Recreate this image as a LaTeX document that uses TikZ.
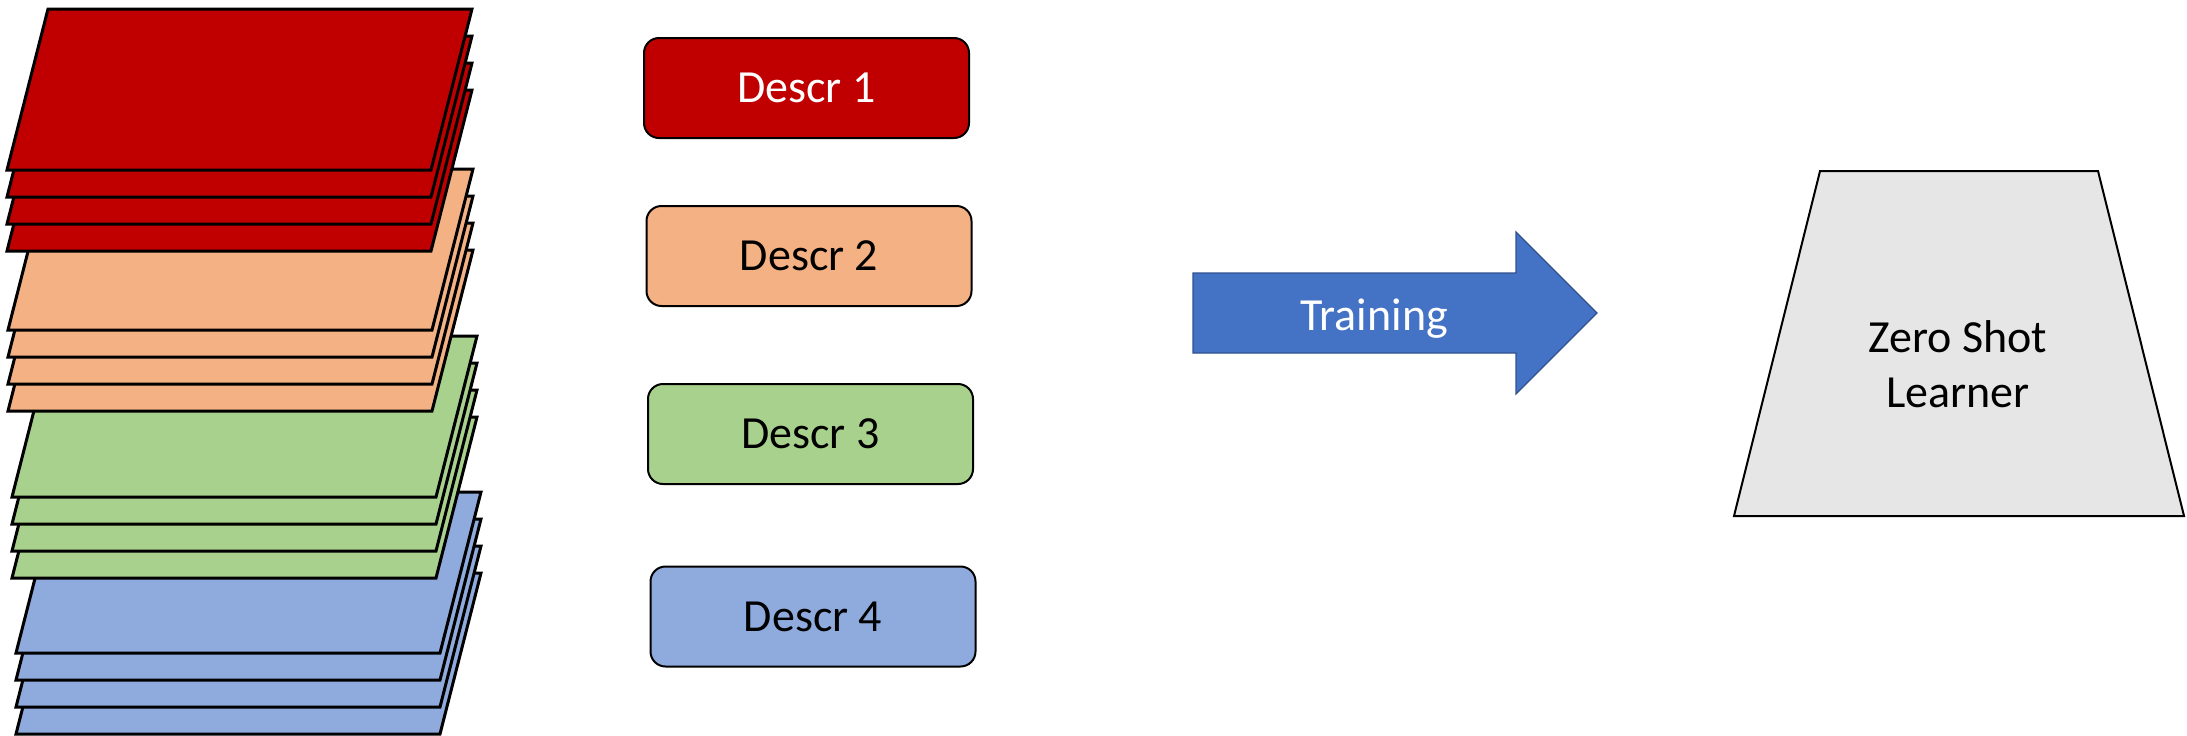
\documentclass[tikz,border=0pt]{standalone}
\usepackage{fontspec}
\setmainfont{Carlito}
\definecolor{sheetred}{HTML}{C00000}
\definecolor{sheetpeach}{HTML}{F4B183}
\definecolor{sheetgreen}{HTML}{A9D18E}
\definecolor{sheetblue}{HTML}{8FAADC}
\definecolor{arrowfill}{HTML}{4472C4}
\definecolor{arrowedge}{HTML}{2F528F}
\definecolor{learnergrey}{HTML}{E6E6E6}

% A stack of four slanted sheets: front sheet's bottom-left x, top y, colour
\newcommand\sheetstack[3]{%
  \foreach \k in {3,2,1,0} {
    \draw[sheet, fill=#3] ({#1+41},{#2+27*\k}) -- ++(424,0) -- ++(-41,161) -- ++(-424,0) -- cycle;
  }%
}

\begin{document}
\begin{tikzpicture}[x=0.5pt, y=-0.5pt,
  sheet/.style={draw=black, line width=1.5pt, line join=miter},
  descbox/.style={draw=black, line width=1pt, rounded corners=7.5pt,
    minimum width=162.5pt, minimum height=50pt, inner sep=0pt,
    text height=14.5pt, text depth=0pt, font=\fontsize{23}{27.5}\selectfont},
  label/.style={font=\fontsize{23}{27.5}\selectfont, inner sep=0pt}]
\useasboundingbox (0,0) rectangle (2187,735);

% stacks of training samples, lowest first
\sheetstack{16}{492}{sheetblue}
\sheetstack{12}{336}{sheetgreen}
\sheetstack{8}{169}{sheetpeach}
\sheetstack{7}{9}{sheetred}

% class descriptions
\node[descbox, fill=sheetred, text=white] (d1) at (806.5,88) {Descr 1};
\node[descbox, fill=sheetpeach] (d2) at (809,256) {Descr 2};
\node[descbox, fill=sheetgreen] (d3) at (810.5,434) {Descr 3};
\node[descbox, fill=sheetblue] (d4) at (813,616.5) {Descr 4};

% training arrow
\draw[fill=arrowfill, draw=arrowedge, line width=0.6pt, line join=miter]
  (1193,273) -- (1516,273) -- (1516,232) -- (1597,313) -- (1516,394)
  -- (1516,353) -- (1193,353) -- cycle;
\node[label, text=white, anchor=base] (train) at (1374,330) {Training};

% zero shot learner
\draw[fill=learnergrey, draw=black, line width=1pt, line join=miter]
  (1820,171) -- (2098,171) -- (2184,516) -- (1734,516) -- cycle;
\node[label, align=center] (zsl) at (1958,364.5) {Zero Shot\\Learner};
\end{tikzpicture}
\end{document}
